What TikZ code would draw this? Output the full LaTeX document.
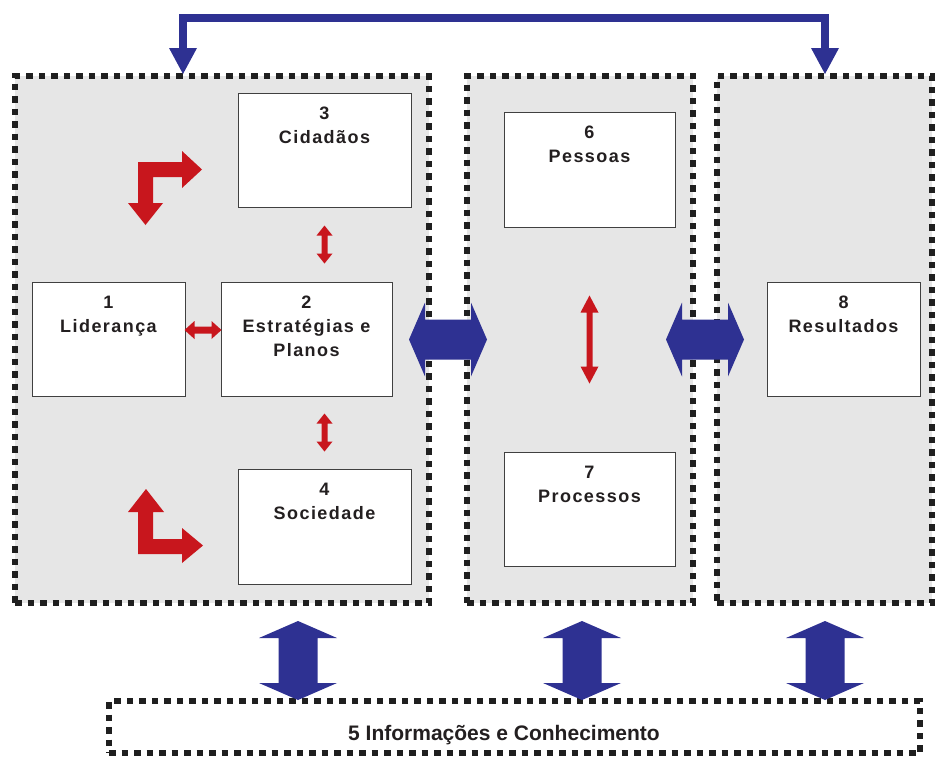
\documentclass[tikz,border=0pt]{standalone}
\usepackage{fontspec}
\setmainfont{Liberation Sans}
\newfontfamily\boxfont{Liberation Sans}[LetterSpace=8]
\usetikzlibrary{calc}
\definecolor{panelgray}{RGB}{230,230,230}
\definecolor{arrblue}{RGB}{46,49,146}
\definecolor{arrred}{RGB}{200,22,29}
\definecolor{txt}{RGB}{35,31,32}
% horizontal double block arrow: centre, half length, head length, head half width, shaft half width, colour
\newcommand\hdbl[6]{\fill[#6] ($#1+(-#2,0)$) -- ($#1+({-#2+#3},{-#4})$) -- ($#1+({-#2+#3},{-#5})$) -- ($#1+({#2-#3},{-#5})$) -- ($#1+({#2-#3},{-#4})$) -- ($#1+(#2,0)$) -- ($#1+({#2-#3},#4)$) -- ($#1+({#2-#3},#5)$) -- ($#1+({-#2+#3},#5)$) -- ($#1+({-#2+#3},#4)$) -- cycle;}
\newcommand\vdbl[6]{\fill[#6] ($#1+(0,-#2)$) -- ($#1+({-#4},{-#2+#3})$) -- ($#1+({-#5},{-#2+#3})$) -- ($#1+({-#5},{#2-#3})$) -- ($#1+({-#4},{#2-#3})$) -- ($#1+(0,#2)$) -- ($#1+(#4,{#2-#3})$) -- ($#1+(#5,{#2-#3})$) -- ($#1+(#5,{-#2+#3})$) -- ($#1+(#4,{-#2+#3})$) -- cycle;}
\tikzset{
  panel/.style={fill=panelgray, draw=black!88, line width=6.5pt, dash pattern=on 6.5pt off 6pt, inner sep=0pt, minimum height=527pt},
  infobox/.style={fill=white, draw=black!88, line width=6.5pt, dash pattern=on 6.5pt off 6pt, inner sep=0pt},
  box/.style={fill=white, draw=black!75, line width=0.8pt, inner sep=0pt},
  lbl/.style={font=\boxfont\bfseries\fontsize{18}{24}\selectfont, text=txt, align=center, inner sep=0pt, anchor=north},
}
\begin{document}
\begin{tikzpicture}[x=1pt,y=-1pt]
\useasboundingbox (0,0) rectangle (935,758);
% panels
\node[panel, minimum width=414pt] (P1) at (222,339.5) {};
\node[panel, minimum width=226pt] (P2) at (580,339.5) {};
\node[panel, minimum width=215pt] (P3) at (824.5,339.5) {};
\node[infobox, minimum width=811pt, minimum height=52pt] (b5) at (514.5,727) {};
\node[font=\bfseries\fontsize{21}{24}\selectfont, text=txt, inner sep=0pt, anchor=base] (t5) at (504,740) {5 Informações e Conhecimento};
% boxes
\node[box, minimum width=153pt, minimum height=114pt] (b1) at (108.5,339) {};
\node[box, minimum width=171pt, minimum height=114pt] (b2) at (306.5,339) {};
\node[box, minimum width=173pt, minimum height=114pt] (b3) at (324.5,150) {};
\node[box, minimum width=173pt, minimum height=115pt] (b4) at (324.5,526.5) {};
\node[box, minimum width=171pt, minimum height=115pt] (b6) at (589.5,169.5) {};
\node[box, minimum width=171pt, minimum height=114pt] (b7) at (589.5,509) {};
\node[box, minimum width=153pt, minimum height=114pt] (b8) at (843.5,339) {};
\node[lbl] (l1) at ([yshift=-14pt]b1.north) {1\\Liderança};
\node[lbl] (l2) at ([yshift=-14pt]b2.north) {2\\Estratégias e\\Planos};
\node[lbl] (l3) at ([yshift=-14pt]b3.north) {3\\Cidadãos};
\node[lbl] (l4) at ([yshift=-14pt]b4.north) {4\\Sociedade};
\node[lbl] (l6) at ([yshift=-14pt]b6.north) {6\\Pessoas};
\node[lbl] (l7) at ([yshift=-14pt]b7.north) {7\\Processos};
\node[lbl] (l8) at ([yshift=-14pt]b8.north) {8\\Resultados};
% red arrows
\coordinate (r32) at ($(b3.south)!0.5!(b3.south |- b2.north)$);
\coordinate (r24) at ($(b4.north)!0.5!(b4.north |- b2.south)$);
\coordinate (r12) at ($($(b1.east)!0.5!(b2.west)$)+(0,-9)$);
\coordinate (r67) at ($(b6.south)!0.5!(b7.north)$);
\vdbl{(r32)}{19}{10}{8}{3}{arrred}
\vdbl{(r24)}{19}{10}{8}{3}{arrred}
\hdbl{(r12)}{18.5}{10}{9}{3.5}{arrred}
\vdbl{(r67)}{44}{17}{9}{3}{arrred}
% red L arrows
\fill[arrred] (138,162) -- (182,162) -- (182,151) -- (202,169.5) -- (182,188) -- (182,177) -- (153,177) -- (153,203) -- (163,203) -- (145.5,225) -- (128,203) -- (138,203) -- cycle;
\fill[arrred] (146,489) -- (164,512) -- (153,512) -- (153,539) -- (182,539) -- (182,528) -- (203,545.5) -- (182,563) -- (182,554) -- (138,554) -- (138,512) -- (128,512) -- cycle;
% blue arrows between panels
\coordinate (h12) at ($(P1.east)!0.5!(P2.west)$);
\coordinate (h23) at ($(P2.east)!0.5!(P3.west)$);
\hdbl{(h12)}{39}{16}{37}{20}{arrblue}
\hdbl{(h23)}{39}{16}{37}{20}{arrblue}
% blue arrows to information box
\coordinate (v1) at (298,660.5);
\coordinate (v2) at (582,660.5);
\coordinate (v3) at (825,660.5);
\vdbl{(v1)}{39.5}{17}{39}{19.5}{arrblue}
\vdbl{(v2)}{39.5}{17}{39}{19.5}{arrblue}
\vdbl{(v3)}{39.5}{17}{39}{19.5}{arrblue}
% top connector
\coordinate (t1) at (183,74);
\coordinate (t2) at (825,74);
\draw[arrblue, line width=7.5pt] ([yshift=26pt]t1) -- ++(0,-30) -| ([yshift=26pt]t2);
\fill[arrblue] (t1) -- ++(-14,-26) -- ++(28,0) -- cycle;
\fill[arrblue] (t2) -- ++(-14,-26) -- ++(28,0) -- cycle;
\end{tikzpicture}
\end{document}
